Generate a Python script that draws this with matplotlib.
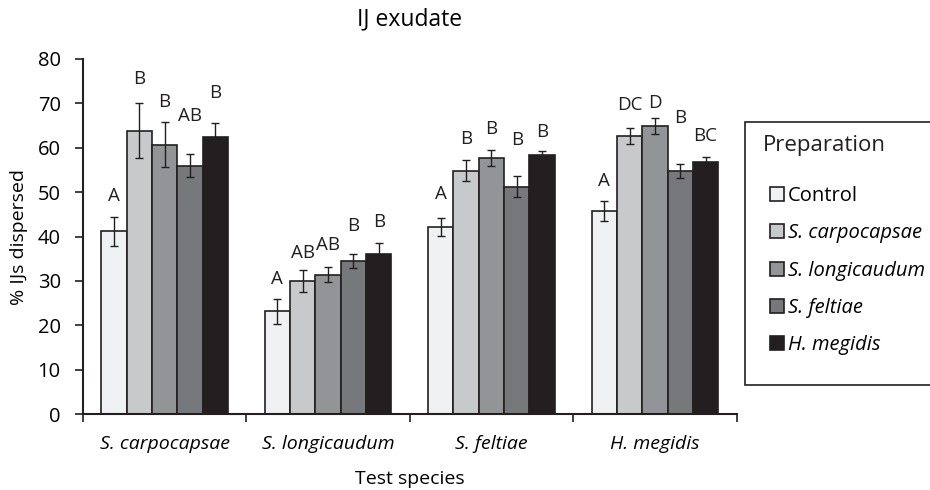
import matplotlib.pyplot as plt
from matplotlib.patches import Rectangle
import numpy as np

plt.rcParams['font.family'] = ['Open Sans', 'DejaVu Sans']

# 数据
test_species = ['S. carpocapsae', 'S. longicaudum', 'S. feltiae', 'H. megidis']
preparations = ['Control', 'S. carpocapsae', 'S. longicaudum', 'S. feltiae', 'H. megidis']

control = [41.2, 23.2, 42.2, 45.7]
s_carpocapsae = [63.8, 30.0, 54.8, 62.6]
s_longicaudum = [60.7, 31.4, 57.6, 64.9]
s_feltiae = [56.0, 34.5, 51.2, 54.7]
h_megidis = [62.5, 36.1, 58.4, 56.9]

err_control = [3.3, 2.8, 2.0, 2.2]
err_carpocapsae = [6.2, 2.4, 2.4, 1.8]
err_longicaudum = [5.1, 1.7, 1.8, 1.7]
err_feltiae = [2.5, 1.6, 2.4, 1.6]
err_megidis = [3.0, 2.5, 0.9, 1.0]

letters_control = ['A', 'A', 'A', 'A']
letters_carpocapsae = ['B', 'AB', 'B', 'DC']
letters_longicaudum = ['B', 'AB', 'B', 'D']
letters_feltiae = ['AB', 'B', 'B', 'B']
letters_megidis = ['B', 'B', 'B', 'BC']

# 字母标注的高度
letter_y_control = [49.2, 30.4, 49.6, 52.4]
letter_y_carpocapsae = [75.4, 36.4, 61.9, 69.6]
letter_y_longicaudum = [70.4, 38.1, 64.3, 70.0]
letter_y_feltiae = [67.2, 42.4, 61.7, 66.8]
letter_y_megidis = [72.4, 43.2, 63.6, 62.6]

colors = ['#f0f1f3', '#c8c9cb', '#929497', '#77787c', '#231f20']
edge = '#231f20'


def main():
    values = [control, s_carpocapsae, s_longicaudum, s_feltiae, h_megidis]
    errors = [err_control, err_carpocapsae, err_longicaudum, err_feltiae, err_megidis]
    letters = [letters_control, letters_carpocapsae, letters_longicaudum,
               letters_feltiae, letters_megidis]
    letter_ys = [letter_y_control, letter_y_carpocapsae, letter_y_longicaudum,
                 letter_y_feltiae, letter_y_megidis]

    W, H = 930, 490
    fig = plt.figure(figsize=(W / 100, H / 100), dpi=100)
    ax = fig.add_axes([0.0892, 0.155, 0.7028, 0.7246])

    x = np.arange(len(test_species)) + 0.5
    w = 0.155
    for j, name in enumerate(preparations):
        pos = x + (j - 2) * w
        ax.bar(pos, values[j], width=w, color=colors[j], edgecolor=edge,
               linewidth=1.2, label=name, zorder=2)
        ax.errorbar(pos, values[j], yerr=errors[j], fmt='none', ecolor=edge,
                    elinewidth=1.0, capsize=3, capthick=1.0, zorder=3)
        for k in range(len(test_species)):
            ax.text(pos[k], letter_ys[j][k], letters[j][k], ha='center',
                    va='center', fontsize=13.5, color='#231f20')

    ax.set_xlim(0, 4)
    ax.set_ylim(0, 80)
    ax.set_yticks(range(0, 81, 10))
    ax.set_xticks([0, 1, 2, 3, 4])
    ax.set_xticklabels([])
    ax.set_xticks(x, minor=True)
    ax.set_xticklabels(test_species, minor=True, style='italic', fontsize=14)
    ax.tick_params(axis='x', which='minor', length=0, pad=15)
    ax.tick_params(axis='x', which='major', length=6, width=1.2, color=edge)
    ax.tick_params(axis='y', length=6, width=1.2, color=edge, labelsize=14.5,
                   pad=10)

    for s in ['top', 'right']:
        ax.spines[s].set_visible(False)
    for s in ['left', 'bottom']:
        ax.spines[s].set_linewidth(1.5)
        ax.spines[s].set_color(edge)

    ax.set_xlabel('Test species', fontsize=14, labelpad=12)
    ax.set_ylabel('% IJs dispersed', fontsize=14, labelpad=7)
    ax.set_title('IJ exudate', fontsize=16.5, pad=24)

    # 图例框 (右侧被裁掉)
    fig.patches.append(Rectangle((745 / W, 1 - 385 / H), 0.3, (385 - 122) / H,
                                 transform=fig.transFigure, facecolor='white',
                                 edgecolor=edge, linewidth=1.2, zorder=0))
    fig.text(763 / W, 1 - 146 / H, 'Preparation', fontsize=16, va='center',
             ha='left', color='#231f20')
    leg = fig.legend(loc='upper left', bbox_to_anchor=(770 / W, 1 - 186 / H),
                     fontsize=14.5, frameon=False,
                     handlelength=0.7, handleheight=0.7, handletextpad=0.2,
                     labelspacing=0.86, borderpad=0, borderaxespad=0)
    for t in leg.get_texts()[1:]:
        t.set_style('italic')

    plt.savefig('out.png')
    plt.close()


if __name__ == '__main__':
    main()
